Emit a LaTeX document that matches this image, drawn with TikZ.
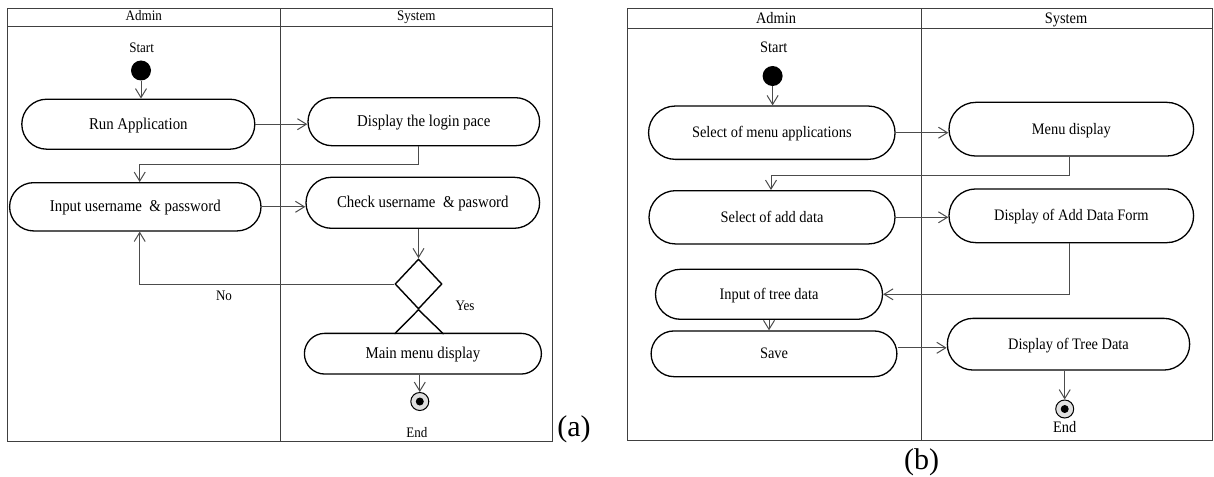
\documentclass[tikz,border=0pt]{standalone}
\usepackage{fontspec}
\setmainfont{Liberation Serif}
\newfontfamily\dgmfont{Liberation Serif}[FakeStretch=0.9]
\usetikzlibrary{shapes.misc,shapes.geometric,arrows.meta}

\begin{document}
\begin{tikzpicture}[x=1pt,y=-1pt]
\tikzstyle{every node}+=[inner sep=0pt]
\tikzstyle{lane}=[draw=black!75,line width=1pt]
\tikzstyle{act}=[rounded rectangle,draw=black,line width=1.3pt,fill=white,text height=12pt,text depth=2pt]
\tikzstyle{txa}=[font=\dgmfont\fontsize{16.5}{18}\selectfont]
\tikzstyle{txb}=[font=\dgmfont\fontsize{16}{18}\selectfont]
\tikzstyle{lba}=[anchor=base,font=\dgmfont\fontsize{14.5}{16}\selectfont]
\tikzstyle{lbb}=[anchor=base,font=\dgmfont\fontsize{16}{18}\selectfont]
\tikzstyle{subcap}=[anchor=base,font=\fontsize{30}{32}\selectfont]
\tikzstyle{flow}=[draw=black!70,line width=1pt,-{Straight Barb[length=9pt,width=11pt]}]
\tikzstyle{startdot}=[circle,fill=black,minimum size=20pt]
\tikzstyle{enddot}=[circle,draw=black,line width=1pt,fill=black!12,minimum size=18pt,path picture={\fill [black] (path picture bounding box.center) circle (4pt);}]
\useasboundingbox (0,0) rectangle (1214,476);
\draw [lane] (7.6,8.3) rectangle (552.6,441);
\draw [lane] (7.6,26.7) -- (552.6,26.7);
\draw [lane] (280,8.3) -- (280,441);
\node [lba] (admA) at (143.8,20.7) {Admin};
\node [lba] (sysA) at (416.3,20.7) {System};
\node [lba] (startA) at (141.6,52.7) {Start};
\node [startdot] (s0) at (141,70.5) {};
\node [act,txa,minimum width=233pt,minimum height=50pt] (run) at (138.3,124.2) {Run Application};
\node [act,txa,minimum width=231.6pt,minimum height=48pt] (login) at (423.8,121.7) {Display the login pace};
\node [act,txa,minimum width=251.4pt,minimum height=48.3pt] (input) at (135.3,206.8) {Input username\ \ \& password};
\node [act,txa,minimum width=233.6pt,minimum height=51pt] (check) at (422.8,202.8) {Check username\ \ \& pasword};
\node [diamond,draw=black,line width=1.4pt,minimum width=47pt,minimum height=50pt] (dec) at (418.5,284) {};
\node [act,txa,minimum width=237pt,minimum height=40.7pt] (mainmenu) at (422.9,353.7) {Main menu display};
\node [enddot] (e0) at (419.8,401.5) {};
\node [lba] (endA) at (417,437.3) {End};
\node [lba] (no) at (224,300) {No};
\node [lba] (yes) at (465,310) {Yes};
\node [subcap] (capA) at (574,436) {(a)};
\draw [flow] (s0) -- (s0 |- run.north);
\draw [flow] (run.east) -- (run.east -| login.west);
\draw [flow] ([xshift=-5.5pt]login.south) -- ++(0,18.6) -| ([xshift=4.4pt]input.north);
\draw [flow] (input.east) -- (input.east -| check.west);
\draw [flow] (dec.north |- check.south) -- (dec.north);
\draw [flow] (dec.west) -| ([xshift=4.4pt]input.south);
\draw [black,line width=1.4pt] (dec.south) -- ++(-24,24.3) (dec.south) -- ++(25,24.3);
\draw [flow] (mainmenu.south -| e0) -- (e0.north);
\draw [lane] (627.3,8.3) rectangle (1212.5,440.7);
\draw [lane] (627.3,28.3) -- (1212.5,28.3);
\draw [lane] (921.2,8.3) -- (921.2,440.7);
\node [lbb] (admB) at (776,23.3) {Admin};
\node [lbb] (sysB) at (1066,23.3) {System};
\node [lbb] (startB) at (773.7,52.7) {Start};
\node [startdot] (s1) at (772.6,76) {};
\node [act,txb,minimum width=246.5pt,minimum height=53.3pt] (selmenu) at (771.8,132.7) {Select of menu applications};
\node [act,txb,minimum width=244.6pt,minimum height=53.7pt] (menudisp) at (1071.3,129.2) {Menu display};
\node [act,txb,minimum width=246pt,minimum height=53.3pt] (seladd) at (772,217.3) {Select of add data};
\node [act,txb,minimum width=244.6pt,minimum height=53.7pt] (addform) at (1071.3,215.8) {Display of Add Data Form};
\node [act,txb,minimum width=227pt,minimum height=50pt] (tree) at (769,294.3) {Input of tree data};
\node [act,txb,minimum width=245.8pt,minimum height=45.7pt] (save) at (774,353.8) {Save};
\node [act,txb,minimum width=242.3pt,minimum height=51.7pt] (treedisp) at (1068.5,344.2) {Display of Tree Data};
\node [enddot] (e1) at (1064.7,409) {};
\node [lbb] (endB) at (1064.7,432.3) {End};
\node [subcap] (capB) at (921.7,469) {(b)};
\draw [flow] (s1) -- (s1 |- selmenu.north);
\draw [flow] (selmenu.east) -- (selmenu.east -| menudisp.west);
\draw [flow] ([xshift=-1.8pt]menudisp.south) -- ++(0,18.7) -| ([xshift=-1pt]seladd.north);
\draw [flow] (seladd.east) -- (seladd.east -| addform.west);
\draw [flow] ([xshift=-2pt]addform.south) |- (tree.east);
\draw [flow] (tree.south) -- (tree.south |- save.north);
\draw [flow] ([yshift=6pt]save.east) -- ([yshift=6pt]save.east -| treedisp.west);
\draw [flow] (treedisp.south -| e1) -- (e1.north);
\end{tikzpicture}
\end{document}
